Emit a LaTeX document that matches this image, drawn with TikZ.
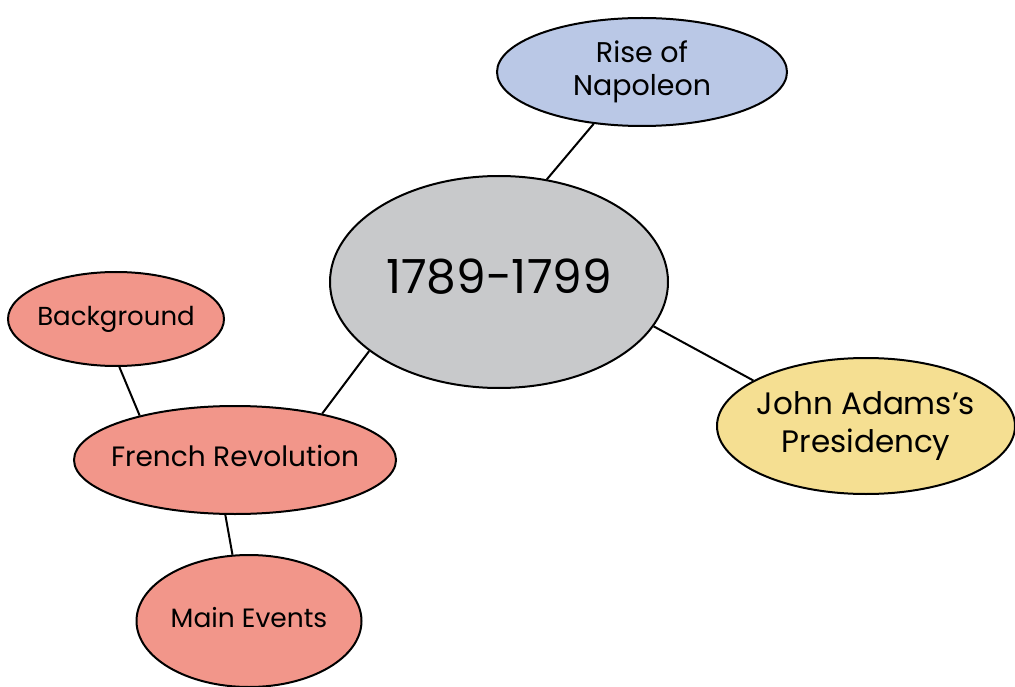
\documentclass[tikz,border=0pt]{standalone}
\usepackage{fontspec}
\setmainfont{Poppins}
\usetikzlibrary{shapes.geometric}

\definecolor{topicgray}{HTML}{C8C9CB}
\definecolor{napblue}{HTML}{BAC8E6}
\definecolor{adamsyellow}{HTML}{F5DF92}
\definecolor{frsalmon}{HTML}{F2968A}

\newcommand{\bubbletext}[1]{\makebox[0pt]{\begin{tabular}{@{}c@{}}#1\end{tabular}}}

\tikzset{
  bubble/.style={ellipse, draw=black, line width=2pt, inner sep=0pt,
    font=\fontsize{26}{31}\selectfont},
  link/.style={line width=2pt}
}

\begin{document}
\begin{tikzpicture}[x=1pt, y=-1pt]
\useasboundingbox (0, 0) rectangle (1015, 687);
%Bubbles
\node [bubble, fill=topicgray, minimum width=338, minimum height=212,
  font=\fontsize{47}{56}\selectfont] (era) at (499, 282) {\bubbletext{1789-1799}};
\node [bubble, fill=napblue, minimum width=290, minimum height=108,
  font=\fontsize{28.5}{33}\selectfont] (napoleon) at (642, 72) {\bubbletext{Rise of\\Napoleon}};
\node [bubble, fill=adamsyellow, minimum width=298, minimum height=136,
  font=\fontsize{31}{38}\selectfont] (adams) at (866, 426) {\bubbletext{John Adams’s\\Presidency}};
\node [bubble, fill=frsalmon, minimum width=216, minimum height=94] (background) at (116, 319) {\bubbletext{Background}};
\node [bubble, fill=frsalmon, minimum width=322, minimum height=108,
  font=\fontsize{28}{33}\selectfont] (frenchrev) at (235, 460) {\bubbletext{French Revolution}};
\node [bubble, fill=frsalmon, minimum width=225, minimum height=132,
  font=\fontsize{26.5}{31}\selectfont] (events) at (249, 621) {\bubbletext{Main Events}};
%Links
\draw [link] (era.65) -- (napoleon.-133);
\draw [link] (era.-16) -- (adams.158);
\draw [link] (era.208) -- (frenchrev.28);
\draw [link] (background.-86) -- (frenchrev.155);
\draw [link] (frenchrev.-100) -- (events.104);
\end{tikzpicture}
\end{document}
